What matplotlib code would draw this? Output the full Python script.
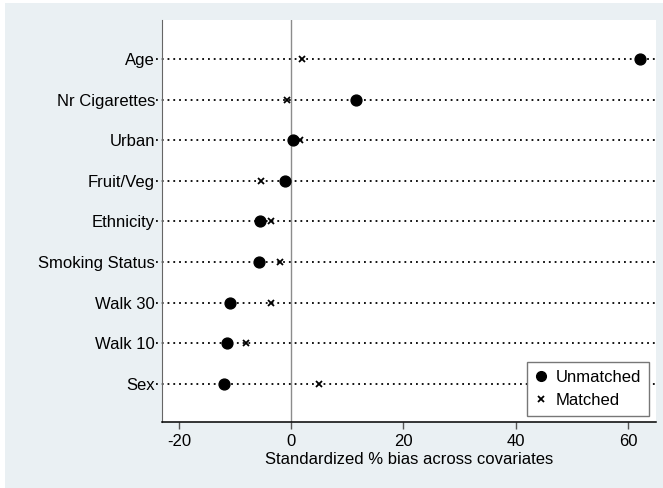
import matplotlib
matplotlib.use("Agg")
import matplotlib.pyplot as plt
from matplotlib.patches import Rectangle
from matplotlib.lines import Line2D

plt.rcParams['font.family'] = ['Liberation Sans', 'DejaVu Sans']

# covariates, top to bottom
covariates = ['Age', 'Nr Cigarettes', 'Urban', 'Fruit/Veg', 'Ethnicity',
              'Smoking Status', 'Walk 30', 'Walk 10', 'Sex']
unmatched = [62.1, 11.6, 0.4, -1.1, -5.6, -5.8, -10.8, -11.4, -12.0]
matched = [1.9, -0.8, 1.5, -5.3, -3.6, -2.0, -3.5, -8.0, 5.0]
xticks = [-20, 0, 20, 40, 60]

W, H = 663, 488
fig = plt.figure(figsize=(W / 100, H / 100), dpi=100)
fig.patch.set_facecolor('white')
# stata-like background panel
fig.add_artist(Rectangle((5 / W, 0), 1 - 5 / W, 1 - 3 / H, transform=fig.transFigure,
                         facecolor='#eaf0f3', edgecolor='none', zorder=-10))

ax = fig.add_axes([162 / W, 1 - 422 / H, (655.5 - 162) / W, (422 - 20) / H])
ax.set_facecolor('white')

ypos = list(range(len(covariates), 0, -1))

for y in ypos:
    ax.plot([-24.0, 64.9], [y, y], color='black', lw=1.3, linestyle=(0, (1, 2.2)),
            zorder=1, clip_on=False)
ax.axvline(0, color='#8c8c8c', lw=1.0, zorder=0.5)

ax.plot(unmatched, ypos, 'o', color='black', markersize=7.8, zorder=3)
ax.plot(matched, ypos, 'x', color='black', markersize=4.5, mew=1.3, zorder=3)

ax.set_xlim(-23.0, 64.9)
ax.set_ylim(1 - 0.94, len(covariates) + 0.96)
ax.set_xticks(xticks)
ax.set_xticklabels([str(t) for t in xticks], fontsize=12)
ax.set_yticks(ypos)
ax.set_yticklabels(covariates, fontsize=12)
ax.tick_params(axis='x', length=5, width=1, color='#555555', pad=4)
ax.tick_params(axis='y', length=0, pad=5)
ax.set_xlabel('Standardized % bias across covariates', fontsize=12, labelpad=2)

for s in ['top', 'right']:
    ax.spines[s].set_visible(False)
ax.spines['left'].set_color('#666666')
ax.spines['bottom'].set_color('black')
ax.spines['bottom'].set_linewidth(1.1)

handles = [Line2D([], [], marker='o', color='black', ls='none', markersize=7),
           Line2D([], [], marker='x', color='black', ls='none', markersize=4.5, mew=1.3)]
leg = ax.legend(handles, ['Unmatched', 'Matched'], loc='lower right',
                bbox_to_anchor=(649 / W, 1 - 416 / H), bbox_transform=fig.transFigure,
                fontsize=12, frameon=True, fancybox=False, framealpha=1,
                edgecolor='#777777', handlelength=0.7, handletextpad=0.5,
                borderpad=0.5, labelspacing=0.45, borderaxespad=0)
leg.get_frame().set_linewidth(1.0)

fig.savefig('out.png', dpi=100)
